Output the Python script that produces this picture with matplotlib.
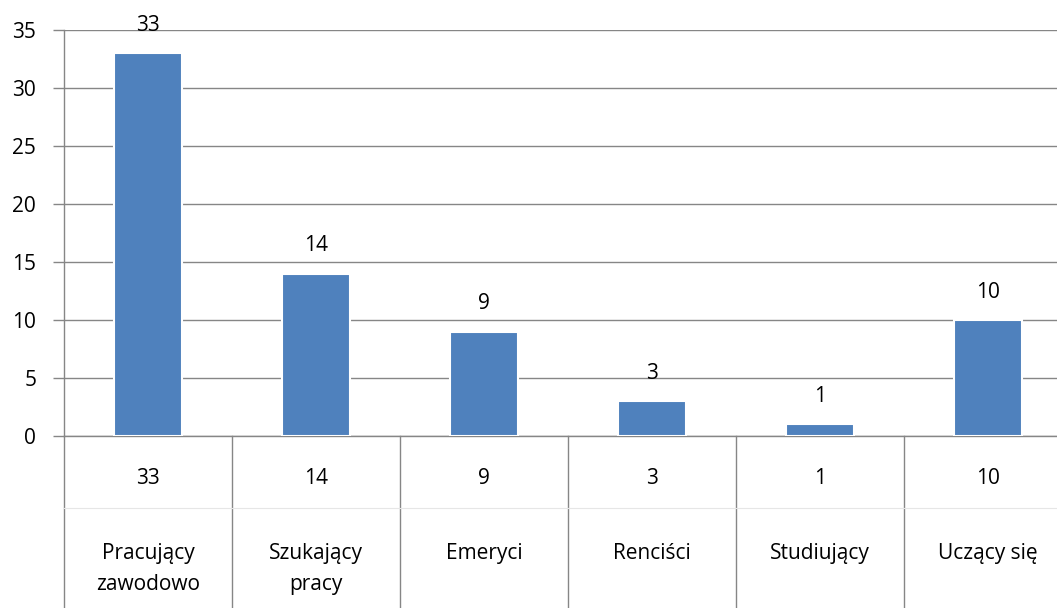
import numpy as np
import matplotlib.pyplot as plt
import matplotlib.transforms as mtransforms

# data
categories = ["Pracujący\nzawodowo", "Szukający\npracy", "Emeryci", "Renciści", "Studiujący", "Uczący się"]
values = [33, 14, 9, 3, 1, 10]

plt.rcParams['font.family'] = ['Open Sans', 'DejaVu Sans']
FS = 15

fig = plt.figure(figsize=(10.57, 6.08), dpi=100)
W, H = 1057.0, 608.0
ax = fig.add_axes([64 / W, (H - 436) / H, 1008 / W, 406 / H])

x = np.arange(len(values))
ax.bar(x, values, width=0.4, color="#4F81BD", edgecolor="white", linewidth=1.5, zorder=3)

ax.set_xlim(-0.5, len(values) - 0.5)
ax.set_ylim(0, 35)
ax.set_yticks(np.arange(0, 36, 5))
ax.yaxis.grid(True, color="#868686", linewidth=1)
ax.set_axisbelow(True)
ax.set_xticks([])
ax.tick_params(axis="y", length=8, width=1, color="#868686", pad=12, labelsize=FS)

for s in ["top", "right"]:
    ax.spines[s].set_visible(False)
for s in ["left", "bottom"]:
    ax.spines[s].set_color("#868686")
    ax.spines[s].set_linewidth(1)

# value labels above bars
for xi, v in zip(x, values):
    ax.annotate(str(v), (xi, v), xytext=(0, 20), textcoords="offset points",
                ha="center", va="center", fontsize=FS, annotation_clip=False)

# data table under the axis
trans = mtransforms.blended_transform_factory(ax.transData, ax.transAxes)
bottom = -172 / 406.0
ax.plot([-0.5, -0.5], [0, bottom], transform=trans, color="#868686", lw=1, clip_on=False)
for b in np.arange(0.5, len(values) - 0.5, 1):
    ax.plot([b, b], [0, bottom], transform=trans, color="#868686", lw=1, clip_on=False)
ax.plot([-0.5, len(values) - 0.5], [-72 / 406.0] * 2, transform=trans,
        color="#E6E6E6", lw=0.8, clip_on=False)

for xi, v, c in zip(x, values, categories):
    ax.text(xi, -42 / 406.0, str(v), transform=trans, ha="center", va="center", fontsize=FS)
    ax.text(xi, -107 / 406.0, c, transform=trans, ha="center", va="top",
            fontsize=FS, linespacing=1.65)

fig.savefig("out.png", dpi=100)
